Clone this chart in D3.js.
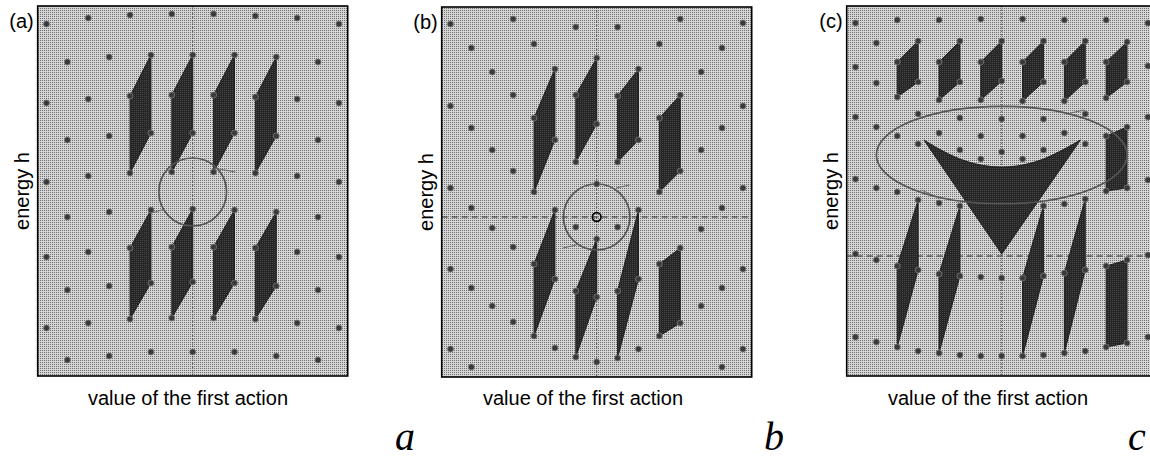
<!DOCTYPE html>
<html><head><meta charset="utf-8">
<script src="https://cdn.jsdelivr.net/npm/d3@7"></script>
<style>body{margin:0;background:#fff;overflow:hidden}</style>
</head><body>
<svg id="chart" width="1150" height="459"></svg>
<script>
// ---------- DATA (column index k, energy h) ----------
const panelLetters = ["a", "b", "c"];
const panelTags = ["(a)", "(b)", "(c)"];
const xLabel = "value of the first action";
const yLabel = "energy h";

// lattice points: [column k, list of energy values]
const latticeA = [
  [-7,[35.2,27.3,19.4,11.9,4.8]], [-6,[31.4,23.6,15.9,8.6,1.6]],
  [-5,[35.8,27.7,20.0,12.4,5.3]], [-4,[31.9,24.0,16.4,9.0,2.0]],
  [-3,[36.1,28.0,20.3,12.8,5.7]], [-2,[32.1,24.3,16.6,9.3,2.4]],
  [-1,[36.2,28.1,20.4,12.9,5.8]], [0,[32.1,24.3,16.7,9.4,2.4]],
  [1,[36.2,28.1,20.4,12.9,5.8]],  [2,[32.1,24.3,16.6,9.3,2.4]],
  [3,[36.0,27.9,20.3,12.8,5.7]],  [4,[31.9,24.0,16.4,9.0,2.0]],
  [5,[35.8,27.7,20.0,12.4,5.3]],  [6,[31.4,23.6,15.9,8.6,1.6]],
  [7,[35.2,27.3,19.4,11.9,4.8]]
];
const latticeB = [
  [-7,[35.3,27.1,18.9,10.8,2.8]], [-6,[32.9,24.9,16.9,8.9,1.0]],
  [-5,[30.5,22.7,14.9,7.1]],      [-4,[35.8,28.2,20.6,13.0,5.5]],
  [-3,[33.3,25.9,18.5,11.3,4.1]], [-2,[30.8,23.7,16.7,9.8,2.9]],
  [-1,[35.0,28.2,21.5,15.0,8.6,2.0]], [0,[31.9,25.3,19.3,13.8,8.0,1.5]],
  [1,[35.0,28.1,21.5,15.0,8.6,1.9]],  [2,[30.8,23.7,16.7,9.8,2.8]],
  [3,[33.3,25.9,18.5,11.3,4.1]],  [4,[35.8,28.2,20.6,12.9,5.4]],
  [5,[30.5,22.7,14.8,7.1]],       [6,[32.9,24.9,16.9,8.9,1.0]],
  [7,[35.4,27.1,18.9,10.8,2.8]]
];
const latticeC = [
  [-7,[35.3,30.9,25.9,19.7,12.2,3.9]], [-6,[33.3,29.3,24.9,18.8,11.6,3.4]],
  [-5,[35.6,31.4,27.9,24.0,18.4,11.0,2.9]], [-4,[33.5,29.4,26.2,23.2,17.6,10.6,2.5]],
  [-3,[35.6,31.4,27.6,24.3,17.3,10.2,2.3]], [-2,[33.5,29.4,25.8,22.6,17.0,10.0,2.1]],
  [-1,[35.7,31.4,27.6,24.0,21.7,9.9,2.0]],  [0,[33.5,29.5,25.7,22.4,9.8,2.0]],
  [1,[35.7,31.4,27.5,24.0,21.7,9.8,2.0]],   [2,[33.5,29.4,25.7,22.6,17.0,10.0,2.1]],
  [3,[35.6,31.4,27.5,24.3,17.2,10.3,2.3]],  [4,[33.5,29.4,26.2,23.2,17.7,10.6,2.5]],
  [5,[35.6,31.4,27.8,24.0,18.5,11.0,2.9]],  [6,[33.4,29.4,24.9,18.8,11.6,3.3]],
  [7,[35.3,31.0,25.9,19.6,12.1,3.9]]
];

// dark cells: four corners [k, h]
const cellsA = [
  [[-2,32.1],[-2,24.3],[-3,20.3],[-3,28.0]], [[0,32.1],[0,24.3],[-1,20.4],[-1,28.1]],
  [[2,32.1],[2,24.3],[1,20.4],[1,28.1]],     [[4,31.9],[4,24.0],[3,20.3],[3,27.9]],
  [[-2,16.6],[-2,9.3],[-3,5.7],[-3,12.8]],   [[0,16.7],[0,9.4],[-1,5.8],[-1,12.9]],
  [[2,16.6],[2,9.3],[1,5.8],[1,12.9]],       [[4,16.4],[4,9.0],[3,5.7],[3,12.8]]
];
const cellsB = [
  [[-2,30.8],[-2,23.7],[-3,18.5],[-3,25.9]], [[0,31.9],[0,25.3],[-1,21.5],[-1,28.2]],
  [[2,30.8],[2,23.7],[1,21.5],[1,28.1]],     [[4,28.2],[4,20.6],[3,18.5],[3,25.9]],
  [[-2,16.7],[-2,9.8],[-3,4.1],[-3,11.3]],   [[0,13.8],[0,8.0],[-1,2.0],[-1,8.6]],
  [[2,16.7],[2,9.8],[1,1.9],[1,8.6]],        [[4,12.9],[4,5.4],[3,4.1],[3,11.3]]
];
const cellsC = [
  [[-4,33.5],[-4,29.4],[-5,27.9],[-5,31.4]], [[-2,33.5],[-2,29.4],[-3,27.6],[-3,31.4]],
  [[0,33.5],[0,29.5],[-1,27.6],[-1,31.4]],   [[2,33.5],[2,29.4],[1,27.5],[1,31.4]],
  [[4,33.5],[4,29.4],[3,27.5],[3,31.4]],     [[6,33.4],[6,29.4],[5,27.8],[5,31.4]],
  [[6,24.9],[6,18.8],[5,18.5],[5,24.0]],
  [[-4,17.6],[-4,10.6],[-5,2.9],[-5,11.0]],  [[-2,17.0],[-2,10.0],[-3,2.3],[-3,10.2]],
  [[2,17.0],[2,10.0],[1,2.0],[1,9.8]],       [[4,17.7],[4,10.6],[3,2.3],[3,10.3]],
  [[6,11.6],[6,3.3],[5,2.9],[5,11.0]]
];
// panel c: V-shaped region (upper curve, then apex)
const vTopC = [[-3.72,23.6],[-3,22.7],[-2,21.7],[-1,21.1],[0,20.9],[1,21.1],[2,21.7],[3,22.7],[3.77,23.6]];
const vApexC = [0,12.2];

// loops: [center k, center h, radius in k, radius in h]
const loopA = [0, 18.4, 1.62, 3.4];
const loopB = [0, 16.0, 1.59, 3.3];
const loopC = [0, 22.1, 6.0, 4.87];
// short flow marks near the loops
const flowA = [[[1.0,20.8],[2.05,20.4]], [[-1.96,16.3],[-1.33,16.7]]];
const flowB = [[[0.93,18.9],[1.57,19.2]], [[-1.62,12.9],[-0.98,13.2]]];
const flowC = [[[3.29,26.3],[3.96,26.6]], [[-3.84,18.6],[-3.22,18.0]]];
// fixed point and horizontal guide
const fixedB = [0, 16.0];
const guideH = [null, 16.0, 12.0];

// ---------- DRAW ----------
const svg = d3.select("#chart");
const defs = svg.append("defs");
const pat = defs.append("pattern").attr("id","halftone").attr("width",2).attr("height",2)
  .attr("patternUnits","userSpaceOnUse");
pat.append("rect").attr("width",2).attr("height",2).attr("fill","#d6d6d6");
pat.append("rect").attr("width",1).attr("height",1).attr("fill","#6c6c6c");
const pat2 = defs.append("pattern").attr("id","darktone").attr("width",2).attr("height",2)
  .attr("patternUnits","userSpaceOnUse");
pat2.append("rect").attr("width",2).attr("height",2).attr("fill","#262626");
pat2.append("rect").attr("width",1).attr("height",1).attr("fill","#454545");

const layout = [
  {left:37.7, top:6, labelX:188},
  {left:441.7, top:7, labelX:583},
  {left:846.7, top:6, labelX:988}
];
const W = 310, H = 370;
const lattices = [latticeA, latticeB, latticeC];
const cells = [cellsA, cellsB, cellsC];
const loops = [loopA, loopB, loopC];
const flows = [flowA, flowB, flowC];
const font = "'Liberation Sans', Arial, sans-serif";

layout.forEach((L, i) => {
  const x = d3.scaleLinear().domain([-7.42, 7.42]).range([L.left, L.left + W]);
  const y = d3.scaleLinear().domain([0, 37]).range([L.top + H, L.top]);
  const line = d3.line().x(d => x(d[0])).y(d => y(d[1]));
  const clipId = "clip" + i;
  defs.append("clipPath").attr("id", clipId).append("rect")
    .attr("x", L.left).attr("y", L.top).attr("width", W).attr("height", H);
  const g = svg.append("g");
  const inner = g.append("g").attr("clip-path", `url(#${clipId})`);

  inner.append("rect").attr("x", L.left).attr("y", L.top).attr("width", W).attr("height", H)
    .attr("fill", "url(#halftone)");

  inner.append("line").attr("x1", x(0)).attr("x2", x(0)).attr("y1", L.top).attr("y2", L.top + H)
    .attr("stroke", "#4a4a4a").attr("stroke-width", 1).attr("stroke-dasharray", "1.5,2");
  if (guideH[i] !== null) {
    inner.append("line").attr("x1", L.left).attr("x2", L.left + W)
      .attr("y1", y(guideH[i])).attr("y2", y(guideH[i]))
      .attr("stroke", "#2a2a2a").attr("stroke-width", 1.1).attr("stroke-dasharray", "6,4");
  }

  inner.selectAll("path.cell").data(cells[i]).join("path").attr("class", "cell")
    .attr("d", d => line(d) + "Z").attr("fill", "url(#darktone)")
    .attr("stroke", "#1e1e1e").attr("stroke-width", 1).attr("stroke-linejoin", "round");

  if (i === 2) {
    const top = d3.line().x(d => x(d[0])).y(d => y(d[1])).curve(d3.curveCatmullRom)(vTopC);
    inner.append("path").attr("d", top + `L${x(vApexC[0])},${y(vApexC[1])}Z`)
      .attr("fill", "url(#darktone)").attr("stroke", "#1e1e1e").attr("stroke-width", 1);
  }

  const lp = loops[i];
  inner.append("ellipse").attr("cx", x(lp[0])).attr("cy", y(lp[1]))
    .attr("rx", x(lp[2]) - x(0)).attr("ry", y(0) - y(lp[3]))
    .attr("fill", "none").attr("stroke", "#555").attr("stroke-width", 1.7);
  inner.selectAll("path.flow").data(flows[i]).join("path").attr("class", "flow")
    .attr("d", d => line(d)).attr("fill", "none").attr("stroke", "#666").attr("stroke-width", 1);

  const pts = lattices[i].flatMap(([k, hs]) => hs.map(h => [k, h]));
  inner.selectAll("circle.pt").data(pts).join("circle").attr("class", "pt")
    .attr("cx", d => x(d[0])).attr("cy", d => y(d[1])).attr("r", 3)
    .attr("fill", "#3a3a3a").attr("stroke", "#7a7a7a").attr("stroke-width", 0.8);

  if (i === 1) {
    inner.append("circle").attr("cx", x(fixedB[0])).attr("cy", y(fixedB[1])).attr("r", 4.3)
      .attr("fill", "none").attr("stroke", "#000").attr("stroke-width", 1.7);
  }

  g.append("rect").attr("x", L.left).attr("y", L.top).attr("width", W).attr("height", H)
    .attr("fill", "none").attr("stroke", "#000").attr("stroke-width", 1.6);

  g.append("text").attr("x", L.left - 4).attr("y", L.top + 22).attr("text-anchor", "end")
    .attr("font-family", font).attr("font-size", 20).text(panelTags[i]);
  const cy = L.top + H / 2;
  g.append("text").attr("transform", `translate(${L.left - 15},${cy}) rotate(-90)`)
    .attr("text-anchor", "middle").attr("dy", "0.3em")
    .attr("font-family", font).attr("font-size", 20).text(yLabel);
  g.append("text").attr("x", L.labelX).attr("y", 405).attr("text-anchor", "middle")
    .attr("font-family", font).attr("font-size", 20).text(xLabel);
  g.append("text").attr("x", [405, 774, 1137][i]).attr("y", 450).attr("text-anchor", "middle")
    .attr("font-family", "'Liberation Serif', 'Times New Roman', serif").attr("font-style", "italic")
    .attr("font-size", 40).text(panelLetters[i]);
});
</script>
</body></html>
